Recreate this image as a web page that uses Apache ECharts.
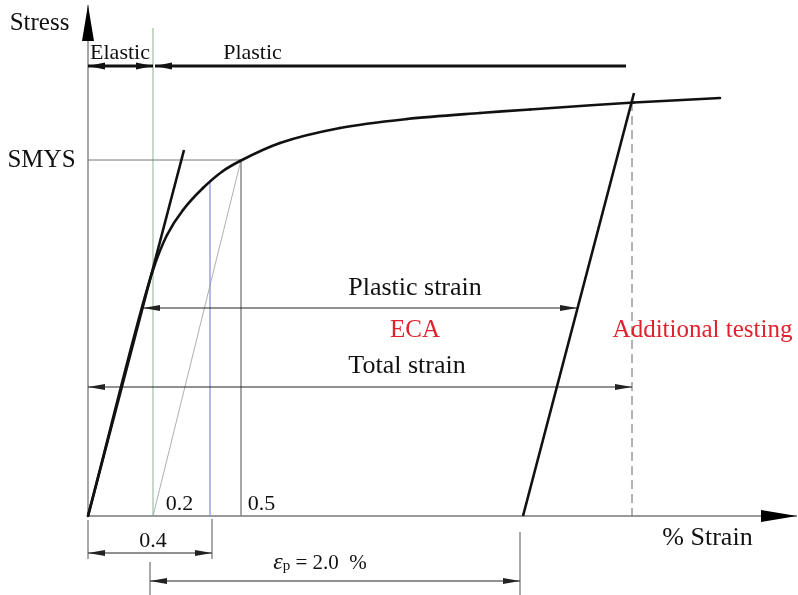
<!DOCTYPE html>
<html>
<head>
<meta charset="utf-8">
<script src="https://cdn.jsdelivr.net/npm/echarts@6/dist/echarts.min.js"></script>
<style>
html,body{margin:0;padding:0;background:#fff;}
#chart{width:798px;height:595px;}
</style>
</head>
<body>
<div id="chart"></div>
<script>
// ---- Data (schematic units: strain offset / stress offset) ----
const curveStrain = [0, 64, 79, 95, 115, 135, 152, 192, 252, 319, 392, 442, 546, 632];
const curveStress = [0, 243, 281, 306, 328, 345, 355, 373, 388, 397, 403, 406.5, 413.5, 418];
const elasticLine = [[0, 0], [96, 366]];
const unloadLine = [[435, 0], [546, 423]];
const offsetLine = [[65, 0], [153, 356]];
const smysLine = [[0, 356], [153, 356]];
const halfPctLine = [[153, 356], [153, 0]];
const blueLine = [[122, 336], [122, 0]];
const greenLine = [[65, 488], [65, 0]];
const dashedLine = [[544, 414], [544, 0]];
const xAxisLine = [[0, 0], [709, 0]];
const yAxisLine = [[0, 0], [0, 511]];
// dimension arrows: [x1, y1, x2, y2, headAtStart, headAtEnd]
const thickArrows = [[0, 450, 65, 450, 1, 1], [67, 450, 538, 450, 1, 0]];
const thinArrows = [[55, 208, 489, 208, 1, 1], [0, 129, 544, 129, 1, 1], [0, -37, 124, -37, 1, 1], [62, -65, 432, -65, 1, 1]];
const extLines = [[[0, -4], [0, -43]], [[124, -3], [124, -43]], [[62, -46], [62, -79]], [[432, -16], [432, -79]]];
// text annotations: [x, y, text, size]
const blackTexts = [
  [-48.5, 493, 'Stress', 25],
  [-46.5, 356, 'SMYS', 25],
  [32, 463, 'Elastic', 22],
  [164.5, 463, 'Plastic', 22],
  [327, 228, 'Plastic strain', 26],
  [319, 150, 'Total strain', 26],
  [619.5, -22, '% Strain', 26],
  [91.5, 12, '0.2', 22],
  [173.5, 12, '0.5', 22],
  [65, -25, '0.4', 22]
];
const redTexts = [
  [327, 186, 'ECA', 25],
  [614.5, 186, 'Additional testing', 25]
];
const epsLabel = [[232, -47, '2.0']];

const FONT = '"Liberation Serif", "Times New Roman", serif';

function seg(data, color, width, type) {
  return {
    type: 'line', data: data, showSymbol: false, silent: true, animation: false,
    lineStyle: { color: color, width: width, type: type || 'solid' }, z: 2
  };
}

function head(tip, from, L, w, color) {
  const dx = tip[0] - from[0], dy = tip[1] - from[1];
  const len = Math.sqrt(dx * dx + dy * dy) || 1;
  const ux = dx / len, uy = dy / len;
  const bx = tip[0] - ux * L, by = tip[1] - uy * L;
  return {
    type: 'polygon',
    shape: { points: [tip, [bx - uy * w, by + ux * w], [bx + uy * w, by - ux * w]] },
    style: { fill: color }
  };
}

function arrowSeries(data, width, L, w, color) {
  return {
    type: 'custom', data: data, silent: true, animation: false, z: 3,
    encode: { x: [0, 2], y: [1, 3] },
    renderItem: function (params, api) {
      const p1 = api.coord([api.value(0), api.value(1)]);
      const p2 = api.coord([api.value(2), api.value(3)]);
      const children = [{
        type: 'line', shape: { x1: p1[0], y1: p1[1], x2: p2[0], y2: p2[1] },
        style: { stroke: color, lineWidth: width }
      }];
      if (api.value(4)) children.push(head(p1, p2, L, w, color));
      if (api.value(5)) children.push(head(p2, p1, L, w, color));
      return { type: 'group', children: children };
    }
  };
}

function textSeries(data, color) {
  return {
    type: 'custom', data: data, silent: true, animation: false, z: 5,
    encode: { x: 0, y: 1 },
    renderItem: function (params, api) {
      const p = api.coord([api.value(0), api.value(1)]);
      const item = data[params.dataIndex];
      return {
        type: 'text', x: p[0], y: p[1],
        style: { text: item[2], fill: color, font: item[3] + 'px ' + FONT, align: 'center', verticalAlign: 'middle' }
      };
    }
  };
}

// stress-strain curve drawn as a centripetal Catmull-Rom spline through the data points
const curveData = curveStrain.map((x, i) => [x, curveStress[i]]);
function dist(a, b) { return Math.pow(Math.hypot(b[0] - a[0], b[1] - a[1]), 0.5) || 1e-6; }
const curveSeries = {
  type: 'custom', data: curveData, silent: true, animation: false, z: 4,
  encode: { x: 0, y: 1 },
  renderItem: function (params, api) {
    if (params.dataIndex !== 0) return { type: 'group', children: [] };
    const P = curveData.map(d => api.coord(d));
    const n = P.length;
    const first = [2 * P[0][0] - P[1][0], 2 * P[0][1] - P[1][1]];
    const last = [2 * P[n - 1][0] - P[n - 2][0], 2 * P[n - 1][1] - P[n - 2][1]];
    const Q = [first].concat(P, [last]);
    const children = [];
    for (let i = 1; i < Q.length - 2; i++) {
      const p0 = Q[i - 1], p1 = Q[i], p2 = Q[i + 1], p3 = Q[i + 2];
      const d1 = dist(p0, p1), d2 = dist(p1, p2), d3 = dist(p2, p3);
      const b1 = [0, 1].map(k => (d1 * d1 * p2[k] - d2 * d2 * p0[k] + (2 * d1 * d1 + 3 * d1 * d2 + d2 * d2) * p1[k]) / (3 * d1 * (d1 + d2)));
      const b2 = [0, 1].map(k => (d3 * d3 * p1[k] - d2 * d2 * p3[k] + (2 * d3 * d3 + 3 * d3 * d2 + d2 * d2) * p2[k]) / (3 * d3 * (d3 + d2)));
      children.push({
        type: 'bezierCurve',
        shape: { x1: p1[0], y1: p1[1], x2: p2[0], y2: p2[1], cpx1: b1[0], cpy1: b1[1], cpx2: b2[0], cpy2: b2[1] },
        style: { stroke: '#111', lineWidth: 2.6, fill: null, lineCap: 'round' }
      });
    }
    return { type: 'group', children: children };
  }
};

const series = [
  seg(yAxisLine, '#777', 1.3),
  seg(xAxisLine, '#777', 1.3),
  seg(greenLine, '#8db38d', 1),
  seg(smysLine, '#777', 1),
  seg(halfPctLine, '#888', 1.5),
  seg(blueLine, '#8585e6', 1.2),
  seg(offsetLine, '#999', 0.8),
  seg(dashedLine, '#666', 1, [9, 5]),
  curveSeries,
  Object.assign(seg(elasticLine, '#111', 2.6), { z: 4 }),
  Object.assign(seg(unloadLine, '#111', 2.6), { z: 4 })
];
extLines.forEach(d => series.push(seg(d, '#555', 1)));
series.push(arrowSeries(thickArrows, 3, 17, 3.5, '#111'));
series.push(arrowSeries(thinArrows, 1, 17, 3, '#222'));
// axis arrowheads
series.push({
  type: 'custom', data: [[709, 0, 674, 0], [0, 511, 0, 473]], silent: true, animation: false, z: 6,
  encode: { x: [0, 2], y: [1, 3] },
  renderItem: function (params, api) {
    const tip = api.coord([api.value(0), api.value(1)]);
    const from = api.coord([api.value(2), api.value(3)]);
    return head(tip, from, 36, 6, '#000');
  }
});
series.push(textSeries(blackTexts, '#111'));
series.push(textSeries(redTexts, '#e0222e'));
series.push({
  type: 'custom', data: epsLabel, silent: true, animation: false, z: 5,
  encode: { x: 0, y: 1 },
  renderItem: function (params, api) {
    const p = api.coord([api.value(0), api.value(1)]);
    return {
      type: 'text', x: p[0], y: p[1],
      style: {
        text: '{e|ε}{s|p}{t| = ' + epsLabel[params.dataIndex][2] + '  %}',
        align: 'center', verticalAlign: 'middle',
        rich: {
          e: { font: 'italic 24px ' + FONT, fill: '#111' },
          s: { font: '15px ' + FONT, fill: '#111', padding: [6, 0, 0, 0] },
          t: { font: '21px ' + FONT, fill: '#111' }
        }
      }
    };
  }
});

const chart = echarts.init(document.getElementById('chart'), null, { renderer: 'canvas' });
chart.setOption({
  backgroundColor: '#fff',
  animation: false,
  grid: { left: 0, right: 0, top: 0, bottom: 0 },
  xAxis: { type: 'value', min: -88, max: 710, show: false },
  yAxis: { type: 'value', min: -79, max: 516, show: false },
  series: series
});
</script>
</body>
</html>
